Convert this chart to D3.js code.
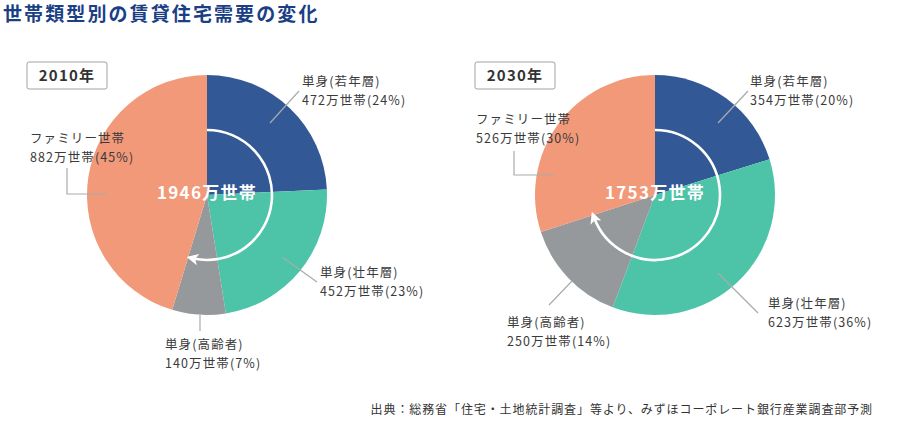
<!DOCTYPE html>
<html><head><meta charset="utf-8">
<script src="https://cdn.jsdelivr.net/npm/d3@7"></script>
<style>
body{margin:0;background:#fff;}
text{font-family:"Noto Sans CJK JP","Noto Sans",sans-serif;}
</style></head>
<body><svg id="c" width="900" height="422"></svg>
<script>
// ---- data ----
const categories = ["単身(若年層)", "単身(壮年層)", "単身(高齢者)", "ファミリー世帯"];
const years = ["2010年", "2030年"];
const values2010 = [472, 452, 140, 882];
const values2030 = [354, 623, 250, 526];
const percents2010 = [24, 23, 7, 45];
const percents2030 = [20, 36, 14, 30];
const totals = [1946, 1753];
const title = "世帯類型別の賃貸住宅需要の変化";
const source = "出典：総務省「住宅・土地統計調査」等より、みずほコーポレート銀行産業調査部予測";

// ---- styles / layout ----
const colors = ["#335896", "#4dc4a8", "#96999c", "#f2997a"];
const R = 120, arcR = 65;
const charts = [
  {cx:207, cy:195, values:values2010, pct:percents2010, total:totals[0], year:years[0], box:[27,62], arrowEnd:192,
   labels:[
     {x:302, y:82, line:[[270,123],[299,91]]},
     {x:320, y:273, line:[[282,257],[317,282]]},
     {x:165, y:345, line:[[200,315],[200,331]]},
     {x:30, y:139, line:[[67,168],[67,194],[107,194]]}
   ]},
  {cx:655, cy:195, values:values2030, pct:percents2030, total:totals[1], year:years[1], box:[475,62], arrowEnd:249,
   labels:[
     {x:750, y:82, line:[[718,123],[748,91]]},
     {x:768, y:304, line:[[718,273],[758,313]]},
     {x:507, y:323, line:[[572,281],[549,305]]},
     {x:476, y:120, line:[[514,151],[514,175],[554,175]]}
   ]}
];

const svg = d3.select("#c");
svg.append("text").attr("x",3).attr("y",21).attr("fill","#1b3f84")
  .attr("font-size",19).attr("font-weight","bold").attr("letter-spacing",2.1).text(title);

const defs = svg.append("defs");
defs.append("marker").attr("id","arr").attr("viewBox","0 0 10 10").attr("refX",4).attr("refY",5)
  .attr("markerWidth",4.5).attr("markerHeight",4.5).attr("orient","auto").attr("markerUnits","strokeWidth")
  .append("path").attr("d","M0,0 L10,5 L0,10 L2.5,5 Z").attr("fill","#fff");

const pie = d3.pie().sort(null).value(d=>d);
const arc = d3.arc().innerRadius(0).outerRadius(R);

charts.forEach(ch=>{
  const g = svg.append("g").attr("transform",`translate(${ch.cx},${ch.cy})`);
  g.selectAll("path.s").data(pie(ch.values)).join("path").attr("class","s")
    .attr("d",arc).attr("fill",(d,i)=>colors[i]);
  const e = ch.arrowEnd*Math.PI/180;
  const path = d3.path();
  path.arc(0,0,arcR,-Math.PI/2,e-Math.PI/2,false);
  g.append("path").attr("d",path.toString()).attr("fill","none").attr("stroke","#fff")
    .attr("stroke-width",2.6).attr("marker-end","url(#arr)");
  g.append("text").attr("x",0).attr("y",-2).attr("dy","0.35em").attr("text-anchor","middle")
    .attr("fill","#fff").attr("font-size",17).attr("font-weight","bold").attr("letter-spacing",1.3)
    .text(ch.total+"万世帯");
  // year box
  svg.append("rect").attr("x",ch.box[0]).attr("y",ch.box[1]).attr("width",80).attr("height",27)
    .attr("rx",2).attr("fill","#fff").attr("stroke","#a0a3a6").attr("stroke-width",1);
  svg.append("text").attr("x",ch.box[0]+40).attr("y",ch.box[1]+14).attr("dy","0.35em")
    .attr("text-anchor","middle").attr("font-size",15).attr("font-weight","bold").attr("fill","#333")
    .attr("letter-spacing",1.2).text(ch.year);
  ch.labels.forEach((l,i)=>{
    svg.append("path").attr("d",d3.line()(l.line)).attr("fill","none").attr("stroke","#a8abae").attr("stroke-width",1.2);
    const t = svg.append("text").attr("font-size",12.5).attr("fill","#3a3a3a").attr("letter-spacing",1.1);
    t.append("tspan").attr("x",l.x).attr("y",l.y).attr("dy","0.35em").text(categories[i]);
    t.append("tspan").attr("x",l.x).attr("y",l.y+19).attr("dy","0.35em").text(ch.values[i]+"万世帯("+ch.pct[i]+"%)");
  });
});

svg.append("text").attr("x",873).attr("y",410).attr("dy","0.35em").attr("text-anchor","end")
  .attr("font-size",12).attr("fill","#333").attr("letter-spacing",0.9).text(source);
</script></body></html>
